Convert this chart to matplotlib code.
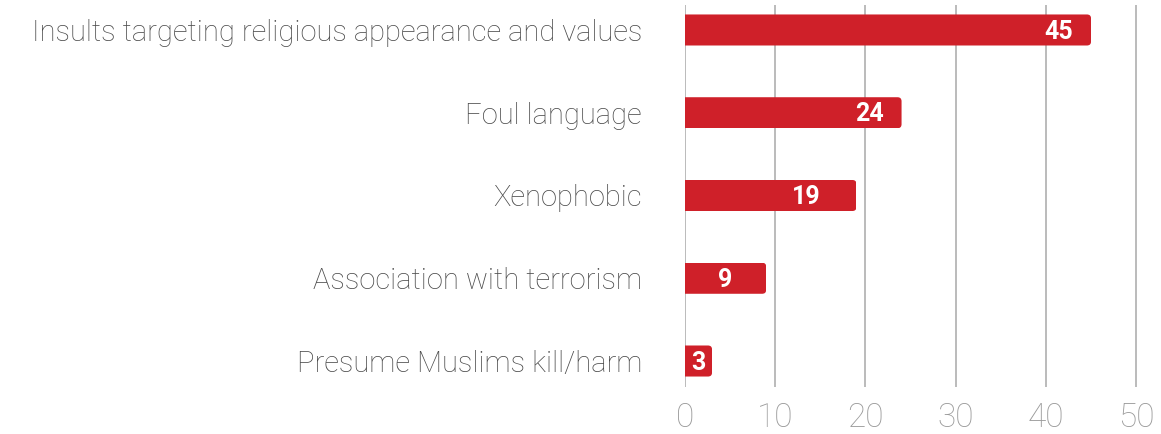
import matplotlib.pyplot as plt
from matplotlib.patches import FancyBboxPatch

# data
categories = ['Insults targeting religious appearance and values',
              'Foul language',
              'Xenophobic',
              'Association with terrorism',
              'Presume Muslims kill/harm']
counts = [45, 24, 19, 9, 3]
ticks = [0, 10, 20, 30, 40, 50]

red = '#cf2029'
grid_col = '#a8a8a8'

fig = plt.figure(figsize=(11.61, 4.34), dpi=100)
ax = fig.add_axes([0.590, 0.1083, 0.3925, 0.8802])

y = list(range(len(categories)))
h = 0.375

bars = ax.barh(y, counts, height=h, color=red, zorder=3, linewidth=0)
for rect, yi, c in zip(bars, y, counts):
    # round only the right end: clip with a rounded box that starts left of 0
    clip = FancyBboxPatch((-1, yi - h / 2), c + 1, h,
                          boxstyle='round,pad=0,rounding_size=0.45',
                          mutation_aspect=0.108,
                          transform=ax.transData, fc='none', ec='none')
    rect.set_clip_path(clip)
    # value label inside the bar
    if c > 20:
        lx = c - 3.6
    elif c > 10:
        lx = c - 5.6
    else:
        lx = c / 2
    ax.text(lx, yi + 0.02, str(c), ha='center', va='center', color='white',
            fontsize=18, fontweight='bold', family='Roboto', zorder=4)

ax.set_xlim(0, 50.5)
ax.set_ylim(4.314, -0.302)
ax.set_xticks(ticks)
ax.set_yticks(y)
ax.set_yticklabels(categories, fontsize=21, color='#4a4a4a',
                   family='Roboto', fontweight='light')
for lab in ax.get_xticklabels():
    lab.set_family('Roboto')
    lab.set_fontweight('light')
ax.tick_params(axis='x', labelsize=24, labelcolor='#9a9a9a', length=0, pad=11)
ax.tick_params(axis='y', length=0, pad=31)

ax.grid(axis='x', color=grid_col, linewidth=1.1, zorder=1)
for s in ax.spines.values():
    s.set_visible(False)

plt.savefig('out.png', dpi=100)
